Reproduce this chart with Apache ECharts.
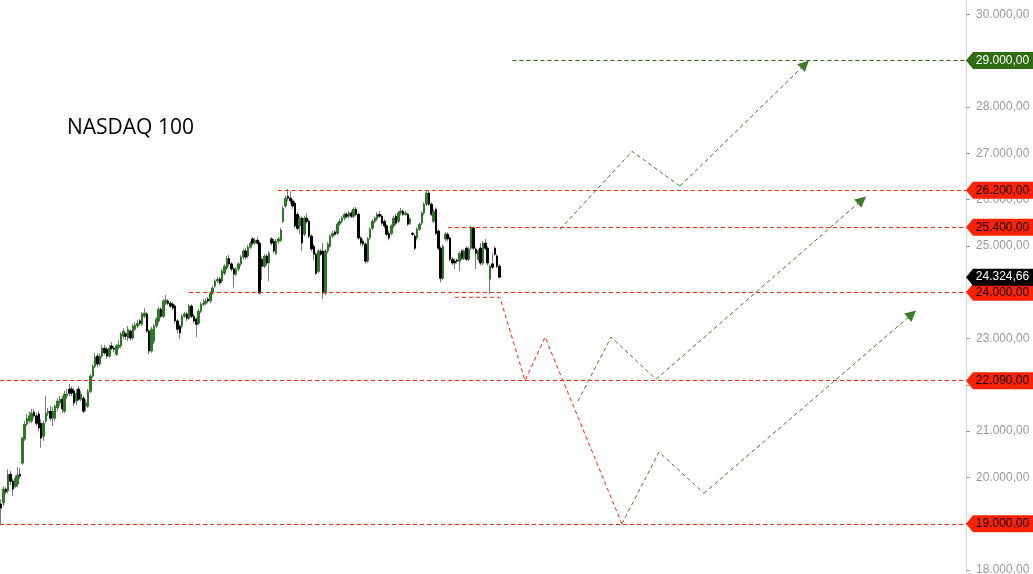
<!DOCTYPE html>
<html><head><meta charset="utf-8">
<script src="https://cdn.jsdelivr.net/npm/echarts@6/dist/echarts.min.js"></script>
<style>html,body{margin:0;padding:0;background:#fff}#c{width:1033px;height:574px}</style>
</head><body><div id="c"></div>
<script>
// ---- data ----
const opens = [
19430,19450,19750,19710,20070,19920,19810,19860,20070,20310,
20830,21150,21220,21220,21410,21330,21370,21170,20890,21220,
21390,21430,21280,21280,21500,21610,21690,21430,21760,21910,
21910,21870,21650,21910,21690,21710,21540,21540,21860,22190,
22400,22620,22450,22620,22790,22770,22620,22840,22790,22660,
22810,22840,23050,23100,23010,23160,23010,23200,23270,23380,
23310,23480,23530,23160,22730,22940,23270,23380,23630,23480,
23760,23810,23760,23740,23700,23380,23270,23270,23480,23530,
23440,23700,23480,23420,23330,23590,23740,23760,23850,23810,
23980,24130,24240,24280,24240,24410,24520,24730,24610,24500,
24390,24500,24610,24760,24890,24780,24970,25150,25060,25120,
25060,
24710,24560,24780,24630,25150,25100,24840,25100,25120,25530,25860,
26070,26030,25970,25920,25680,25430,25600,25250,25600,25530,
25210,24990,24820,24450,24890,24890,23980,24890,24990,25210,
25300,25270,25470,25530,25600,25680,25640,25710,25640,25790,
25680,25170,25100,25040,24670,25170,25380,25530,25580,25680,
25640,25530,25430,25270,25270,25430,25640,25530,25710,25750,
25680,25680,25490,25270,25210,25170,25360,25490,25710,25900,
26140,25900,25530,25790,25320,24950,24300,
25150,25250,25170,24710,24670,24690,24670,24890,24730,24950,
24710,24950,25380,24930,24710,24950,24630,25060,24950,24280,
24610,24950,24780,24560
];
const closes = [
19340,19750,19690,20070,19920,19750,19990,20050,20030,20850,
21150,21280,21330,21390,21330,21170,21070,20850,21170,21390,
21430,21280,21430,21540,21650,21690,21480,21800,21800,21820,
21820,21610,21820,21690,21800,21430,21610,21860,22190,22400,
22600,22450,22620,22790,22690,22620,22790,22790,22770,22840,
22860,23100,23160,23050,23200,23010,23270,23290,23330,23330,
23530,23550,23160,22730,23200,23270,23420,23630,23480,23810,
23830,23760,23700,23660,23380,23200,23120,23480,23530,23440,
23700,23480,23380,23310,23590,23740,23760,23810,23810,23980,
24090,24240,24280,24200,24450,24560,24730,24610,24500,24390,
24500,24610,24760,24890,24760,24970,25060,25060,25120,25060,
23980,
24560,24780,24630,24840,25060,24890,25100,25150,25340,25810,26030,
26030,25970,25860,25430,25380,25600,25060,25600,25530,25210,
24930,24820,24410,24890,24820,23980,24890,25040,25210,25270,
25250,25470,25530,25600,25680,25640,25710,25640,25790,25680,
25170,25060,25040,24670,25150,25360,25530,25600,25680,25640,
25490,25430,25250,25170,25430,25600,25490,25710,25750,25680,
25710,25470,25580,25250,24950,25360,25470,25710,25900,26140,
25900,25680,25750,25270,24950,24300,24990,
25250,25150,24710,24630,24630,24670,24840,24730,24890,24710,
24930,25380,24950,24840,24890,24630,25060,24950,24630,24560,
24540,24820,24560,24324.66
];
const lows = [
19000,19380,19640,19660,19840,19600,19770,19790,19970,20270,
20790,21110,21170,21170,21280,21110,21000,20640,20790,21170,
21330,21220,21110,21220,21430,21540,21390,21390,21690,21760,
21760,21540,21560,21650,21650,21390,21430,21500,21820,22150,
22360,22380,22400,22580,22640,22560,22580,22750,22700,22620,
22770,22790,22990,22970,22950,22950,22970,23160,23220,23290,
23270,23440,23120,22660,22690,22880,23220,23330,23440,23440,
23720,23720,23660,23610,23330,23110,22990,23220,23440,23380,
23400,23440,23330,23030,23290,23550,23700,23720,23760,23760,
23940,24090,24200,24150,24200,24370,24480,24560,24450,24100,
24340,24450,24560,24710,24710,24730,24930,25010,25020,25020,
23960,
24260,24520,24580,24240,25010,24840,24800,25040,25080,25490,25810,
25970,25900,25800,25380,25330,25250,24900,25210,25480,25160,
24880,24690,24370,24410,24780,23850,23940,24840,24950,25170,
25210,25230,25430,25490,25550,25600,25600,25600,25600,25640,
25120,25010,24990,24620,24630,25120,25340,25490,25530,25600,
25440,25380,25210,25120,25230,25380,25440,25490,25660,25640,
25640,25430,25450,25210,24910,25120,25320,25450,25660,25860,
25860,25640,25490,25230,24910,24210,24260,
25100,25100,24670,24580,24500,24620,24450,24690,24690,24670,
24670,24910,24910,24500,24670,24580,24580,24910,24580,23960,
24500,24780,24520,24300
];
const highs = [
19530,19810,19790,20180,20140,19970,20050,20220,20200,20870,
21220,21370,21430,21480,21480,21390,21430,21260,21220,21760,
21500,21540,21520,21580,21710,21760,21760,21870,21910,22020,
21970,21930,21910,21970,21870,21760,21690,21910,22230,22450,
22690,22680,22680,22860,22860,22820,22860,22920,22840,22880,
22960,23140,23220,23140,23270,23200,23310,23350,23400,23420,
23570,23660,23570,23200,23250,23310,23460,23680,23680,23850,
23940,23850,23810,23790,23740,23420,23310,23530,23570,23570,
23750,23740,23530,23460,23640,23790,23850,23870,23900,24020,
24130,24280,24330,24330,24500,24600,24780,24800,24650,24540,
24540,24650,24800,24930,24950,25020,25100,25190,25170,25190,
25100,
24760,24820,24820,24880,25190,25150,25150,25190,25380,25860,26090,
26230,26180,26010,25970,25730,25640,25640,25650,25700,25580,
25250,25040,24860,24930,24930,25060,24930,25080,25250,25320,
25340,25510,25580,25640,25720,25730,25750,25760,25830,25840,
25720,25210,25150,25080,25190,25400,25580,25640,25730,25750,
25680,25580,25470,25320,25470,25650,25690,25750,25820,25790,
25760,25720,25620,25300,25250,25400,25510,25750,25940,26200,
26200,25940,25790,25830,25360,24990,25030,
25300,25290,25210,24760,24720,24730,24880,24930,24930,24990,
24970,25430,25420,24970,24930,25060,25100,25150,24990,24600,
24840,24990,24820,24600
];
// number of daily slots across the whole plot (history + projection room)
const slotCount = 411;
// horizontal levels: value and the slot where the dashed line starts
const levelValues = [29000, 26200, 25400, 24000, 22090, 19000];
const levelStarts = [218, 118.2, 190.6, 80.4, 0, 0];
// projected paths [slot, value]
const redPath = [[193.6,23890],[212.7,23890],[223.4,22090],[231.9,23030],[264.6,19000]];
const greenPathA = [[264.6,19000],[280.4,20550],[299.5,19660],[388.0,23525]];
const greenPathB = [[245.9,21650],[260.0,23030],[279.1,22120],[366.7,25990]];
const greenPathC = [[238.3,25360],[268.9,27040],[289.3,26290],[342.5,28920]];
const yMin = 17916.8, yMax = 30307.5, yStep = 1000;
const titleText = 'NASDAQ 100';

// ---- styles ----
const RED = '#ff2200', GREEN_D = '#2f6b12', GREEN = '#3d7d27', UP = '#2a7a22', DOWN = '#000000', WICK = '#7a7a7a';
const fmt = v => { const p = Math.abs(v).toFixed(2).split('.'); return p[0].replace(/\B(?=(\d{3})+(?!\d))/g, '.') + ',' + p[1]; };

const ohlc = opens.map((o, i) => [o, closes[i], lows[i], highs[i]]);
const bodies = opens.map((o, i) => [o, closes[i], Math.min(o, closes[i]), Math.max(o, closes[i])]);
const cats = Array.from({length: slotCount}, (_, i) => i);

const dashStyle = c => ({color: c, width: 1, type: [4, 3], opacity: 1});
const series = [
  {type: 'candlestick', xAxisIndex: 0, data: ohlc, barWidth: 1, silent: true,
   itemStyle: {color: WICK, color0: WICK, borderColor: WICK, borderColor0: WICK, borderWidth: 1}},
  {type: 'candlestick', xAxisIndex: 0, data: bodies, barWidth: 2, silent: true,
   itemStyle: {color: UP, color0: DOWN, borderColor: UP, borderColor0: DOWN, borderWidth: 1}}
];
// horizontal levels as a markLine group
series.push({type: 'line', xAxisIndex: 1, data: [], silent: true, z: 3,
  markLine: {silent: true, symbol: ['none', 'none'], label: {show: false}, animation: false, emphasis: {disabled: true},
    data: levelValues.map((v, k) => [
      {coord: [levelStarts[k], v], lineStyle: dashStyle(v === 29000 ? GREEN_D : RED)},
      {coord: [slotCount, v]}
    ])}});
function path(pts, c, arrow) {
  const body = arrow ? pts.slice(0, -1) : pts;
  const s = {type: 'line', xAxisIndex: 1, data: body, showSymbol: false, silent: true, lineStyle: dashStyle(c)};
  if (arrow) {
    s.markLine = {silent: true, symbol: ['none', 'triangle'], symbolSize: 11, label: {show: false},
      itemStyle: {color: GREEN_D},
      lineStyle: dashStyle(c), emphasis: {disabled: true}, animation: false,
      data: [[{coord: pts[pts.length - 2]}, {coord: pts[pts.length - 1]}]]};
  }
  series.push(s);
}
path(redPath, RED, false);
path(greenPathA, GREEN, true);
path(greenPathB, GREEN, true);
path(greenPathC, GREEN, true);

// price tags on the right axis
const tagPath = 'path://M0,8.5L7,0L67,0L67,17L7,17Z';
const tags = [
  {v: 29000, bg: GREEN_D, fg: '#ffffff'},
  {v: 26200, bg: RED, fg: '#000000'},
  {v: 25400, bg: RED, fg: '#000000'},
  {v: 24000, bg: RED, fg: '#000000'},
  {v: 22090, bg: RED, fg: '#000000'},
  {v: 19000, bg: RED, fg: '#000000'},
  {v: closes[closes.length - 1], bg: '#000000', fg: '#ffffff'}
];
series.push({type: 'line', xAxisIndex: 1, data: [], silent: true,
  markPoint: {silent: true, animation: false,
    data: tags.map(t => ({coord: [slotCount, t.v], symbol: tagPath, symbolSize: [67, 17], symbolOffset: [33.5, 0],
      symbolKeepAspect: false, itemStyle: {color: t.bg},
      label: {show: true, position: 'inside', offset: [3, 0], formatter: fmt(t.v), color: t.fg,
        fontSize: 12, fontFamily: 'Liberation Sans, Arial, sans-serif'}}))}});

const chart = echarts.init(document.getElementById('c'), null, {renderer: 'canvas'});
chart.setOption({
  animation: false,
  backgroundColor: '#ffffff',
  title: {text: titleText, left: 67, top: 118, padding: 0,
    textStyle: {fontFamily: 'Open Sans', fontSize: 21, fontWeight: 'normal', color: '#000'}},
  grid: {left: 0, right: 67, top: 0, bottom: 0, containLabel: false, outerBoundsMode: 'none'},
  xAxis: [
    {type: 'category', data: cats, boundaryGap: true, show: false, axisLine: {onZero: false}},
    {type: 'value', min: 0, max: slotCount, show: false, axisLine: {onZero: false}}
  ],
  yAxis: {type: 'value', position: 'right', min: yMin, max: yMax, minInterval: yStep, maxInterval: yStep, splitNumber: 12,
    axisLine: {show: true, onZero: false, lineStyle: {color: '#d6d6d6', width: 1}},
    axisTick: {show: true, length: 4, lineStyle: {color: '#9a9a9a'}},
    splitLine: {show: false},
    axisLabel: {show: true, margin: 10, color: '#9a9a9a', fontSize: 12, fontFamily: 'Liberation Sans, Arial, sans-serif',
      showMinLabel: false, showMaxLabel: false,
      formatter: v => (v % yStep === 0 ? fmt(v) : '')}},
  series: series
});
</script></body></html>
